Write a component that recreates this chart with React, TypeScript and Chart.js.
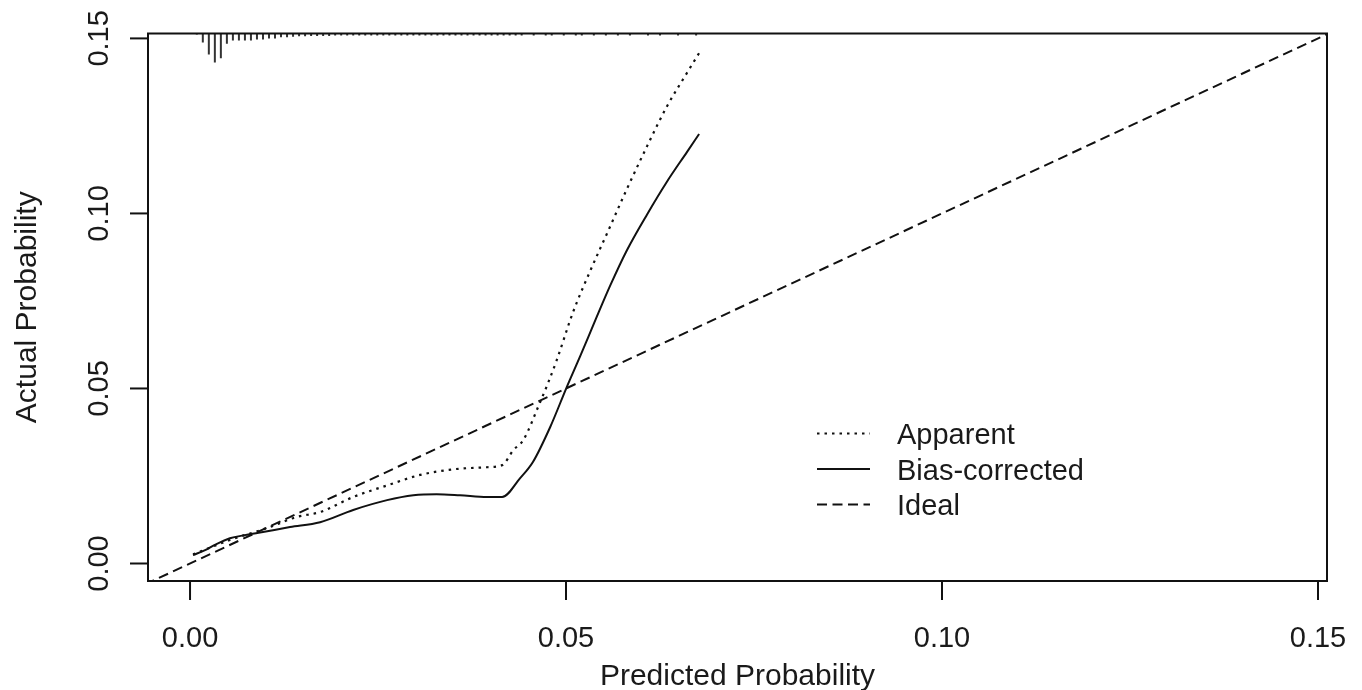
import React, { useEffect, useRef } from "react";
import { Chart, registerables } from "chart.js";

Chart.register(...registerables);

// ---- data ----
const xTicks = [0, 0.05, 0.1, 0.15];
const yTicks = [0, 0.05, 0.1, 0.15];
const xTitle = "Predicted Probability";
const yTitle = "Actual Probability";
const legendLabels = ["Apparent", "Bias-corrected", "Ideal"];

const apparentX = [0.0004, 0.0053, 0.0106, 0.0142, 0.0173, 0.0217, 0.0262, 0.0306, 0.035, 0.0395, 0.0415, 0.043, 0.0443, 0.0465, 0.0476, 0.0488, 0.0509, 0.0532, 0.0555, 0.0581, 0.0608, 0.0634, 0.0661, 0.0677];
const apparentY = [0.0026, 0.0067, 0.0104, 0.0133, 0.0147, 0.019, 0.0223, 0.0253, 0.0269, 0.0275, 0.0281, 0.0324, 0.0352, 0.0458, 0.0515, 0.0583, 0.0716, 0.0835, 0.0945, 0.107, 0.1193, 0.1305, 0.1402, 0.1458];

const biasX = [0.0004, 0.002, 0.0033, 0.0053, 0.0073, 0.0097, 0.0133, 0.0173, 0.0217, 0.0262, 0.0297, 0.0328, 0.0359, 0.0395, 0.0415, 0.0439, 0.0456, 0.0479, 0.0501, 0.0519, 0.0539, 0.0559, 0.0581, 0.0608, 0.0634, 0.0661, 0.0677];
const biasY = [0.0024, 0.0038, 0.0053, 0.0072, 0.0081, 0.009, 0.0104, 0.0118, 0.0153, 0.0181, 0.0195, 0.0198, 0.0195, 0.019, 0.019, 0.0244, 0.029, 0.039, 0.0504, 0.0593, 0.0695, 0.0795, 0.0895, 0.0998, 0.1090, 0.1176, 0.1227];

const idealX = [-0.006, 0.152];

const rugX = [0.0009, 0.0017, 0.0025, 0.0033, 0.0041, 0.0049, 0.0057, 0.0065, 0.0073, 0.0081, 0.0089, 0.0097, 0.0105, 0.0113, 0.0121, 0.0129, 0.0137, 0.0145, 0.0153, 0.0161, 0.0169, 0.0177, 0.0185, 0.0193, 0.0201, 0.0209, 0.0217, 0.0225, 0.0233, 0.0241, 0.0249, 0.0257, 0.0265, 0.0273, 0.0281, 0.0289, 0.0297, 0.0305, 0.0313, 0.0321, 0.0329, 0.0337, 0.0345, 0.0353, 0.0361, 0.0369, 0.0377, 0.0385, 0.0393, 0.0401, 0.0409, 0.0417, 0.0425, 0.0433, 0.0441, 0.0457, 0.0473, 0.0481, 0.0497, 0.0513, 0.0521, 0.0537, 0.0553, 0.0569, 0.0585, 0.0609, 0.0625, 0.0649, 0.0673];
const rugLen = [0.0003, 0.0026, 0.006, 0.0083, 0.0071, 0.0029, 0.002, 0.002, 0.002, 0.002, 0.0017, 0.0017, 0.0014, 0.0014, 0.0011, 0.0011, 0.0009, 0.0008, 0.0008, 0.0007, 0.0007, 0.0007, 0.0007, 0.0006, 0.0006, 0.0006, 0.0006, 0.0006, 0.0006, 0.0006, 0.0006, 0.0006, 0.0006, 0.0006, 0.0006, 0.0006, 0.0006, 0.0006, 0.0006, 0.0006, 0.0006, 0.0006, 0.0006, 0.0006, 0.0006, 0.0006, 0.0006, 0.0006, 0.0006, 0.0006, 0.0006, 0.0006, 0.0006, 0.0006, 0.0006, 0.0006, 0.0006, 0.0006, 0.0006, 0.0006, 0.0006, 0.0006, 0.0006, 0.0006, 0.0006, 0.0006, 0.0006, 0.0006, 0.0006];

const X_MIN = -0.00559;
const X_MAX = 0.1512;
const Y_MIN = -0.005;
const Y_MAX = 0.1514;

const INK = "#111111";
const FONT = '29px "Liberation Sans", Arial, Helvetica, sans-serif';
const TITLE_FONT = '30px "Liberation Sans", Arial, Helvetica, sans-serif';

const DOT = [2.5, 5];
const DASH = [10, 5.5];

const fmt = (v: number) => v.toFixed(2);

const rFramePlugin = {
  id: "rFrame",
  afterDatasetsDraw(chart: any) {
    const { ctx, chartArea } = chart;
    const { left, right, top, bottom } = chartArea;
    const xs = chart.scales.x;
    const ys = chart.scales.y;
    ctx.save();
    ctx.strokeStyle = INK;
    ctx.fillStyle = "#1a1a1a";
    ctx.lineWidth = 2;
    ctx.setLineDash([]);
    ctx.strokeRect(left, top, right - left, bottom - top);
    ctx.font = FONT;
    ctx.textAlign = "center";
    ctx.textBaseline = "alphabetic";
    xTicks.forEach((v) => {
      const px = xs.getPixelForValue(v);
      ctx.beginPath();
      ctx.moveTo(px, bottom);
      ctx.lineTo(px, bottom + 19);
      ctx.stroke();
      ctx.fillText(fmt(v), px, bottom + 66);
    });
    yTicks.forEach((v) => {
      const py = ys.getPixelForValue(v);
      ctx.beginPath();
      ctx.moveTo(left, py);
      ctx.lineTo(left - 18, py);
      ctx.stroke();
      ctx.save();
      ctx.translate(left - 40, py);
      ctx.rotate(-Math.PI / 2);
      ctx.fillText(fmt(v), 0, 0);
      ctx.restore();
    });
    ctx.font = TITLE_FONT;
    ctx.fillText(xTitle, (left + right) / 2, bottom + 104);
    ctx.save();
    ctx.translate(left - 112, (top + bottom) / 2);
    ctx.rotate(-Math.PI / 2);
    ctx.fillText(yTitle, 0, 0);
    ctx.restore();
    ctx.font = FONT;
    ctx.textAlign = "left";
    const styles = [DOT, [], DASH];
    const lx0 = left + 669;
    const lx1 = left + 722;
    const tx = left + 749;
    legendLabels.forEach((lab, i) => {
      const base = top + 410.5 + i * 35.5;
      const ly = base - 10.5;
      ctx.setLineDash(styles[i]);
      ctx.beginPath();
      ctx.moveTo(lx0, ly);
      ctx.lineTo(lx1, ly);
      ctx.stroke();
      ctx.setLineDash([]);
      ctx.fillText(lab, tx, base);
    });
    ctx.restore();
  },
};

export default function App() {
  const ref = useRef<HTMLCanvasElement | null>(null);

  useEffect(() => {
    if (!ref.current) return;
    const rugData: { x: number; y: number | null }[] = [];
    rugX.forEach((x, i) => {
      rugData.push({ x, y: Y_MAX });
      rugData.push({ x, y: Y_MAX - rugLen[i] });
      rugData.push({ x, y: null });
    });
    const chart = new Chart(ref.current, {
      type: "scatter",
      data: {
        datasets: [
          {
            label: "rug",
            data: rugData as any,
            showLine: true,
            borderColor: "#333333",
            borderWidth: 2,
            pointRadius: 0,
            spanGaps: false,
            tension: 0,
          },
          {
            label: legendLabels[0],
            data: apparentX.map((x, i) => ({ x, y: apparentY[i] })),
            showLine: true,
            borderColor: INK,
            borderWidth: 2.2,
            borderDash: DOT,
            pointRadius: 0,
            cubicInterpolationMode: "monotone",
          },
          {
            label: legendLabels[1],
            data: biasX.map((x, i) => ({ x, y: biasY[i] })),
            showLine: true,
            borderColor: INK,
            borderWidth: 2,
            pointRadius: 0,
            cubicInterpolationMode: "monotone",
          },
          {
            label: legendLabels[2],
            data: idealX.map((x) => ({ x, y: x })),
            showLine: true,
            borderColor: INK,
            borderWidth: 2,
            borderDash: DASH,
            pointRadius: 0,
          },
        ] as any,
      },
      options: {
        responsive: false,
        animation: false,
        events: [],
        layout: { padding: { left: 148, right: 35, top: 33.5, bottom: 109 } },
        scales: {
          x: { type: "linear", min: X_MIN, max: X_MAX, display: false },
          y: { type: "linear", min: Y_MIN, max: Y_MAX, display: false },
        },
        plugins: { legend: { display: false }, tooltip: { enabled: false } },
      },
      plugins: [rFramePlugin],
    });
    return () => chart.destroy();
  }, []);

  return (
    <div style={{ position: "absolute", left: 0, top: 0, width: 1362, height: 690, background: "#fff" }}>
      <canvas ref={ref} width={1362} height={690} style={{ width: 1362, height: 690 }} />
    </div>
  );
}
